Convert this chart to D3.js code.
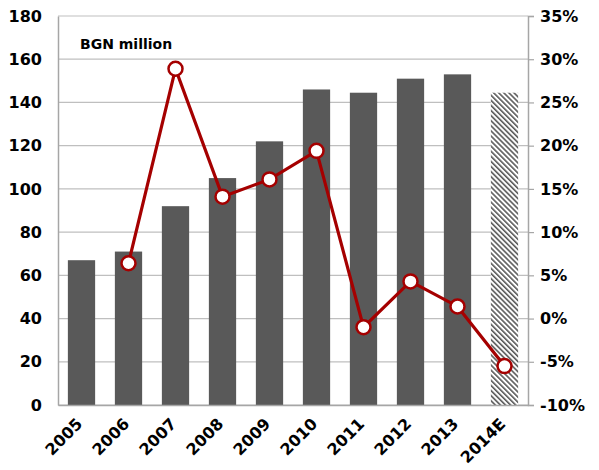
<!DOCTYPE html>
<html><head><meta charset="utf-8">
<script src="https://cdn.jsdelivr.net/npm/d3@7"></script>
<style>body{margin:0;background:#fff}svg{display:block}text{font-family:"DejaVu Sans",Verdana,sans-serif;font-weight:bold;fill:#000}</style>
</head><body><svg id="c" width="599" height="470"></svg>
<script>
const years = ["2005","2006","2007","2008","2009","2010","2011","2012","2013","2014E"];
const revenue = [67, 71, 92, 105, 122, 146, 144.5, 151, 153, 144.5];
const growthYears = ["2006","2007","2008","2009","2010","2011","2012","2013","2014E"];
const growth = [6.4, 28.9, 14.1, 16.1, 19.4, -1.0, 4.3, 1.4, -5.5];
const leftTicks = [0,20,40,60,80,100,120,140,160,180];
const rightTicks = [-10,-5,0,5,10,15,20,25,30,35];
const estimated = ["2014E"];
const unitLabel = "BGN million";

const svg = d3.select("#c");
const m = {l:58, r:528, t:16, b:405};
const defs = svg.append("defs");
const pat = defs.append("pattern").attr("id","hatch").attr("patternUnits","userSpaceOnUse")
  .attr("width",3.6).attr("height",3.6).attr("patternTransform","rotate(45)");
pat.append("rect").attr("width",3.6).attr("height",3.6).attr("fill","#fff");
pat.append("line").attr("x1",0).attr("x2",3.6).attr("y1",1).attr("y2",1).attr("stroke","#4d4d4d").attr("stroke-width",1.5);

const x = d3.scaleBand().domain(years).range([m.l,m.r]).paddingInner(0.42).paddingOuter(0.21);
const y = d3.scaleLinear().domain([0,180]).range([m.b,m.t]);
const y2 = d3.scaleLinear().domain([-10,35]).range([m.b,m.t]);

// gridlines
svg.append("g").selectAll("line").data(leftTicks).join("line")
  .attr("x1",m.l).attr("x2",m.r).attr("y1",d=>y(d)).attr("y2",d=>y(d))
  .attr("stroke","#bfbfbf").attr("stroke-width",1.2);

// bars
svg.append("g").selectAll("rect").data(years).join("rect")
  .attr("x",d=>x(d)).attr("width",x.bandwidth())
  .attr("y",(d,i)=>y(revenue[i])).attr("height",(d,i)=>y(0)-y(revenue[i]))
  .attr("fill",d=>estimated.includes(d)?"url(#hatch)":"#595959");

// axes
const la = svg.append("g").attr("transform",`translate(${m.l},0)`)
  .call(d3.axisLeft(y).tickValues(leftTicks).tickSize(0).tickPadding(16));
const ra = svg.append("g").attr("transform",`translate(${m.r},0)`)
  .call(d3.axisRight(y2).tickValues(rightTicks).tickSize(6).tickPadding(6).tickFormat(d=>d+"%"));
const ba = svg.append("g").attr("transform",`translate(0,${m.b})`)
  .call(d3.axisBottom(x).tickSize(0).tickPadding(10));
[la,ra,ba].forEach(g=>{
  g.select(".domain").attr("stroke","#a6a6a6").attr("stroke-width",1.5);
  g.selectAll(".tick line").attr("stroke","#a6a6a6").attr("stroke-width",1.2);
  g.selectAll("text").style("font-size","16px").style("font-family","'DejaVu Sans',Verdana,sans-serif").style("font-weight","bold").attr("fill","#000");
});
ba.selectAll("text").style("font-size","16px").attr("text-anchor","end")
  .attr("transform","translate(-13,5) rotate(-45)").attr("dy","0.7em");

// unit label
svg.append("text").attr("x",80).attr("y",49).style("font-size","14px").text(unitLabel);

// growth line
const pts = growthYears.map((d,i)=>[x(d)+x.bandwidth()/2, y2(growth[i])]);
svg.append("path").attr("d",d3.line()(pts)).attr("fill","none")
  .attr("stroke","#a50000").attr("stroke-width",3.2);
svg.append("g").selectAll("circle").data(pts).join("circle")
  .attr("cx",d=>d[0]).attr("cy",d=>d[1]).attr("r",7)
  .attr("fill","#fff").attr("stroke","#a50000").attr("stroke-width",2.5);
</script></body></html>
